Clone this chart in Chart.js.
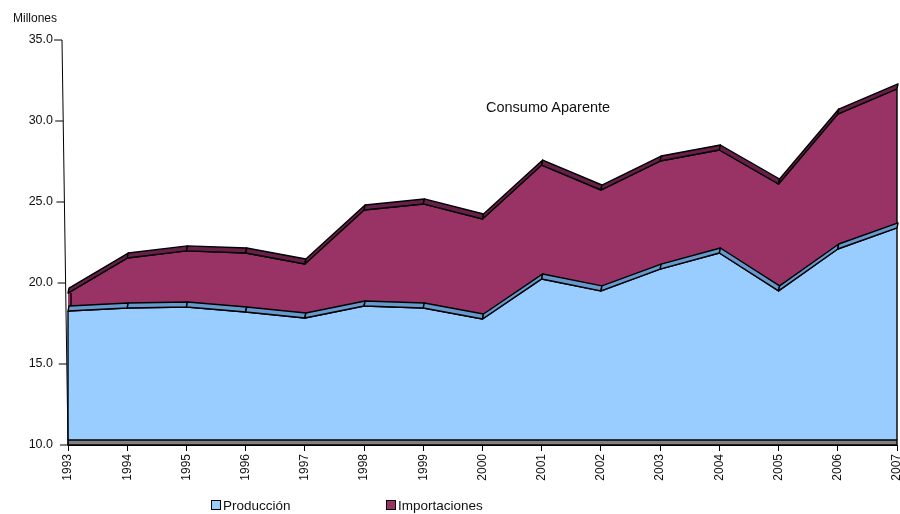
<!DOCTYPE html>
<html><head><meta charset="utf-8">
<script src="https://cdn.jsdelivr.net/npm/chart.js@4.4.1/dist/chart.umd.min.js"></script>
<style>
html,body{margin:0;padding:0;background:#fff;}
#wrap{position:relative;width:900px;height:514px;overflow:hidden;font-family:"Liberation Sans",Arial,sans-serif;color:#111;}
#c{position:absolute;left:0;top:0;}
.lbl{position:absolute;white-space:nowrap;line-height:1;}
.sw{display:inline-block;width:8px;height:8px;border:1px solid #000;margin-right:2px;position:relative;top:0px;}
</style></head><body>
<div id="wrap">
<canvas id="c" width="900" height="514"></canvas>
<div class="lbl" style="left:13px;top:12px;font-size:12px;">Millones</div>
<div class="lbl" style="left:486px;top:100px;font-size:14.5px;">Consumo Aparente</div>
<div class="lbl" style="left:211px;top:499px;font-size:13.5px;"><span class="sw" style="background:#99CCFF"></span>Producción</div>
<div class="lbl" style="left:386px;top:499px;font-size:13.5px;"><span class="sw" style="background:#993366"></span>Importaciones</div>
</div>
<script>
const years = ['1993','1994','1995','1996','1997','1998','1999','2000','2001','2002','2003','2004','2005','2006','2007'];
const produccion = [18.27, 18.46, 18.52, 18.21, 17.84, 18.58, 18.46, 17.78, 20.25, 19.51, 20.86, 21.85, 19.51, 22.10, 23.40];
const importaciones = [1.11, 3.08, 3.46, 3.64, 3.33, 5.93, 6.42, 6.17, 7.03, 6.23, 6.67, 6.36, 6.60, 8.33, 8.58];
const yMin = 10, yMax = 35, yStep = 5;

const depth = {dx: 1, dy: 5};

const threeD = {
  id: 'threeD',
  afterDatasetsDraw(chart) {
    const ctx = chart.ctx, ca = chart.chartArea, ys = chart.scales.y;
    const base = ys.getPixelForValue(ys.min);
    const floorTop = base - depth.dy;
    const prod = chart.getDatasetMeta(0).data;
    const imp = chart.getDatasetMeta(1).data;
    const n = prod.length;
    ctx.save();
    ctx.lineJoin = 'round';
    ctx.strokeStyle = '#000';
    ctx.lineWidth = 1.4;
    // floor strip
    ctx.fillStyle = '#808080';
    ctx.beginPath();
    ctx.rect(prod[0].x, floorTop, prod[n-1].x - prod[0].x, depth.dy);
    ctx.fill(); ctx.stroke();
    // side edges
    ctx.beginPath();
    ctx.moveTo(prod[0].x, floorTop); ctx.lineTo(prod[0].x, prod[0].y);
    ctx.moveTo(prod[n-1].x, floorTop); ctx.lineTo(prod[n-1].x, prod[n-1].y);
    ctx.moveTo(imp[0].x + 3, prod[0].y - depth.dy); ctx.lineTo(imp[0].x + 3, imp[0].y);
    ctx.moveTo(imp[n-1].x, prod[n-1].y); ctx.lineTo(imp[n-1].x, imp[n-1].y);
    ctx.stroke();
    function bands(pts, color) {
      for (let i = 0; i < pts.length - 1; i++) {
        const a = pts[i], b = pts[i+1];
        ctx.beginPath();
        ctx.moveTo(a.x, a.y);
        ctx.lineTo(b.x, b.y);
        ctx.lineTo(b.x + depth.dx, b.y - depth.dy);
        ctx.lineTo(a.x + depth.dx, a.y - depth.dy);
        ctx.closePath();
        ctx.fillStyle = color;
        ctx.fill(); ctx.stroke();
      }
    }
    bands(prod, '#6699CC');
    bands(imp, '#66204A');
    // slanted value axis with tick marks
    const top = ys.getPixelForValue(ys.max);
    const xb = ca.left, xt = ca.left - 6;
    const ax = (yy) => xt + (xb - xt) * (yy - top) / (base - top);
    ctx.lineWidth = 1;
    ctx.beginPath();
    ctx.moveTo(xt, top); ctx.lineTo(xb, base);
    ys.ticks.forEach(t => {
      const yy = ys.getPixelForValue(t.value);
      const x = ax(yy);
      ctx.moveTo(x - 8, yy); ctx.lineTo(x, yy);
    });
    ctx.stroke();
    ctx.restore();
  }
};

new Chart(document.getElementById('c'), {
  type: 'line',
  data: {
    labels: years,
    datasets: [
      {label: 'Producción', data: produccion, backgroundColor: '#99CCFF', borderColor: '#000', borderWidth: 1.4, fill: 'start', pointRadius: 0, tension: 0},
      {label: 'Importaciones', data: importaciones, backgroundColor: '#993366', borderColor: '#000', borderWidth: 1.4, fill: '-1', pointRadius: 0, tension: 0}
    ]
  },
  options: {
    responsive: false,
    animation: false,
    devicePixelRatio: 1,
    layout: {padding: {left: 0, right: 3, top: 40, bottom: 29}},
    plugins: {legend: {display: false}, tooltip: {enabled: false}, title: {display: false}},
    scales: {
      x: {
        grid: {display: true, drawOnChartArea: false, drawTicks: true, tickLength: 6, color: '#000'},
        border: {display: true, color: '#000'},
        ticks: {minRotation: 90, maxRotation: 90, autoSkip: false, padding: 3, color: '#111',
                font: {family: '"Liberation Sans", Arial, sans-serif', size: 12}},
        afterFit(s) { s.height = 40; s.paddingLeft = 0; s.paddingRight = 0; }
      },
      y: {
        stacked: true,
        min: yMin, max: yMax,
        grid: {display: false, drawTicks: false},
        border: {display: false},
        ticks: {stepSize: yStep, padding: 15, color: '#111',
                font: {family: '"Liberation Sans", Arial, sans-serif', size: 12.5},
                callback: v => Number(v).toFixed(1)},
        afterFit(s) { s.width = 68; }
      }
    }
  },
  plugins: [threeD]
});
</script>
</body></html>
